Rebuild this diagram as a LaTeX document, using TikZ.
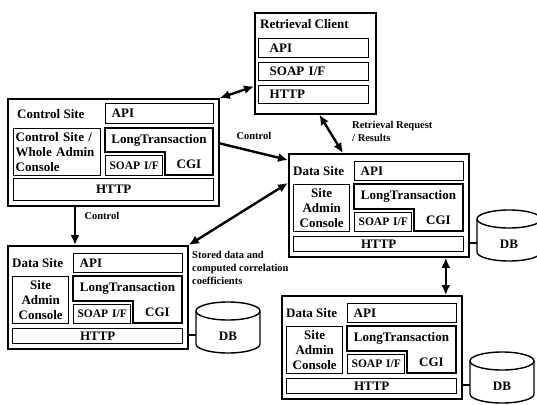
\documentclass[tikz,border=0pt]{standalone}
\usepackage{fontspec}
\setmainfont{Liberation Serif}
\usetikzlibrary{arrows.meta}
\usetikzlibrary{calc}

\begin{document}
\begin{tikzpicture}[
  x=1pt, y=-1pt,
  > = {Latex[length=10pt,width=9pt]},
  every node/.style = {font=\fontsize{13}{15}\selectfont\bfseries},
  site/.style = {draw, line width=1.8pt, inner sep=0pt, anchor=north west},
  box/.style = {draw, line width=1.4pt, inner xsep=6pt, inner ysep=0pt, anchor=north west},
  soap/.style = {box, inner xsep=1pt, align=center, font=\fontsize{11.5}{13}\selectfont\bfseries},
  shape L/.style = {draw, line width=1.4pt},
  db line/.style = {draw, line width=1.4pt},
  small/.style = {font=\fontsize{10.5}{13}\selectfont\bfseries},
  link/.style = {<->, line width=2.4pt},
  ]
	\useasboundingbox (0,0) rectangle (537,404);

	% control site
	\node[site, minimum width=211pt, minimum height=107pt] (cs) at (7,98) {};
	\node[anchor=west, inner sep=0pt] (cs-title) at (17,114) {Control Site};
	\node[box, text width=96pt, align=left, minimum height=20pt] (cs-api) at (105,103) {API};
	\node[box, inner xsep=2pt, text width=83pt, align=left, minimum height=47pt] (cs-admin) at (13,128) {Control Site /\\Whole Admin\\Console};
	\draw[shape L] (105,128) -- (213,128) -- (213,175) -- (165,175) -- (165,152) -- (105,152) -- cycle;
	\node (cs-lt) at (159,140) {LongTransaction};
	\node (cs-cgi) at (189,164) {CGI};
	\node[soap, text width=55pt, minimum height=20pt] (cs-soap) at (105,155) {SOAP I/F};
	\node[box, text width=188pt, align=center, minimum height=22pt] (cs-http) at (13,178) {HTTP};

	% retrieval client
	\node[site, minimum width=121pt, minimum height=101pt] (rc) at (254,12) {};
	\node[anchor=west, inner sep=0pt] (rc-title) at (260,24) {Retrieval Client};
	\node[box, inner xsep=11pt, text width=88pt, align=left, minimum height=19pt] (rc-api) at (258,38) {API};
	\node[box, inner xsep=11pt, text width=88pt, align=left, minimum height=18pt] (rc-soap) at (258,62) {SOAP I/F};
	\node[box, inner xsep=11pt, text width=88pt, align=left, minimum height=18pt] (rc-http) at (258,85) {HTTP};

	% data sites
	\foreach \n/\px/\py in {ds1/288/153, ds2/7/245, ds3/281/295}{
	\begin{scope}[shift={(\px,\py)}]
		\node[site, minimum width=180pt, minimum height=103pt] (\n) at (0,0) {};
		\node[anchor=west, inner sep=0pt] (\n-title) at (5,18) {Data Site};
		\node[box, text width=97pt, align=left, minimum height=19pt] (\n-api) at (66,8) {API};
		\node[box, inner xsep=1pt, text width=54pt, align=center, minimum height=47pt] (\n-admin) at (5,31) {Site\\Admin\\Console};
		\draw[shape L] (66,31) -- (175,31) -- (175,78) -- (126,78) -- (126,56) -- (66,56) -- cycle;
		\node (\n-lt) at (120.5,43.5) {LongTransaction};
		\node (\n-cgi) at (150.5,67) {CGI};
		\node[soap, text width=55pt, minimum height=19pt] (\n-soap) at (66,59) {SOAP I/F};
		\node[box, text width=158pt, align=center, minimum height=15pt] (\n-http) at (5,83) {HTTP};
		% DB cylinder
		\draw[db line] (189,66) -- (189,99) arc[start angle=180, end angle=360, x radius=32pt, y radius=9pt] -- (253,66);
		\draw[db line] (221,66) ellipse [x radius=32pt, y radius=9pt];
		\node (\n-db) at (221,91) {DB};
		\coordinate (\n-dbside) at (189,90);
		\draw[line width=1.8pt] (\n.east |- \n-dbside) -- (\n-dbside);
	\end{scope}
	}

	% connectors
	\draw[link] (cs.north east) -- ([yshift=-23pt]rc.west);
	\draw[link] ([xshift=4pt]rc.south) -- ([xshift=-36pt]ds1.north);
	\node[small, anchor=west, align=left, inner sep=0pt] (rr) at (352,131) {Retrieval Request\\/ Results};
	\draw[->, line width=2.4pt] ([yshift=9pt]cs.east) -- ([yshift=-7pt]ds1.north west)
		node[small, midway, above=8pt] {Control};
	\draw[->, line width=2.4pt] ([xshift=68pt]cs.south west) -- ([xshift=68pt]ds2.north west)
		node[small, pos=0.25, right=5pt] {Control};
	\draw[link] (ds2.north east) -- ([yshift=-30pt]ds1.north west);
	\node[small, anchor=north west, align=left, inner sep=0pt] (stored) at (192,251) {Stored data and\\computed correlation\\coefficients};
	\draw[link] ([xshift=-24pt]ds1.south east) -- ([xshift=-24pt]ds1.south east |- ds3.north);

\end{tikzpicture}
\end{document}
